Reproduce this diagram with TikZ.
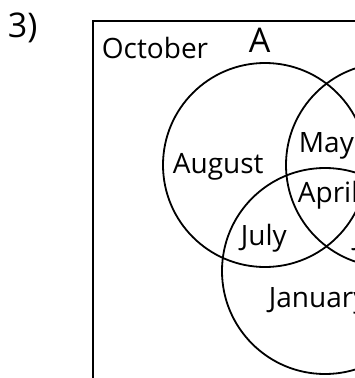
\documentclass[tikz,border=0pt]{standalone}
\usepackage{fontspec}
\setmainfont{Open Sans}
\usepackage{tikz}
\newcommand{\vennfont}{\fontsize{28}{34}\selectfont}
\newcommand{\bigvennfont}{\fontsize{34}{40}\selectfont}

\begin{document}
\begin{tikzpicture}[x=1pt, y=-1pt, line width=1.8pt,
  month/.style={anchor=base west, inner sep=0pt, font=\vennfont}]%Venn diagram
\useasboundingbox (0,0) rectangle (355,378);
\clip (0,0) rectangle (355,378);
  \node[month, font=\bigvennfont] (qnum) at (7,37) {3)};
% universal set
\draw (93,21) rectangle (520,460);
  \node[month] (oct) at (101,58) {October};
% sets
\draw (265,165) circle [radius=102pt];
\draw (388,165) circle [radius=102pt];
\draw (325,271) circle [radius=103pt];
  \node[month, font=\bigvennfont] (setA) at (248,52) {A};
  \node[month] (aug) at (172,173) {August};
  \node[month] (may) at (298,152) {May};
  \node[month] (apr) at (297,202) {April};
  \node[month] (jul) at (240,245) {July};
  \node[month] (jun) at (353,245) {June};
  \node[month] (jan) at (268,307) {January};
\end{tikzpicture}
\end{document}
